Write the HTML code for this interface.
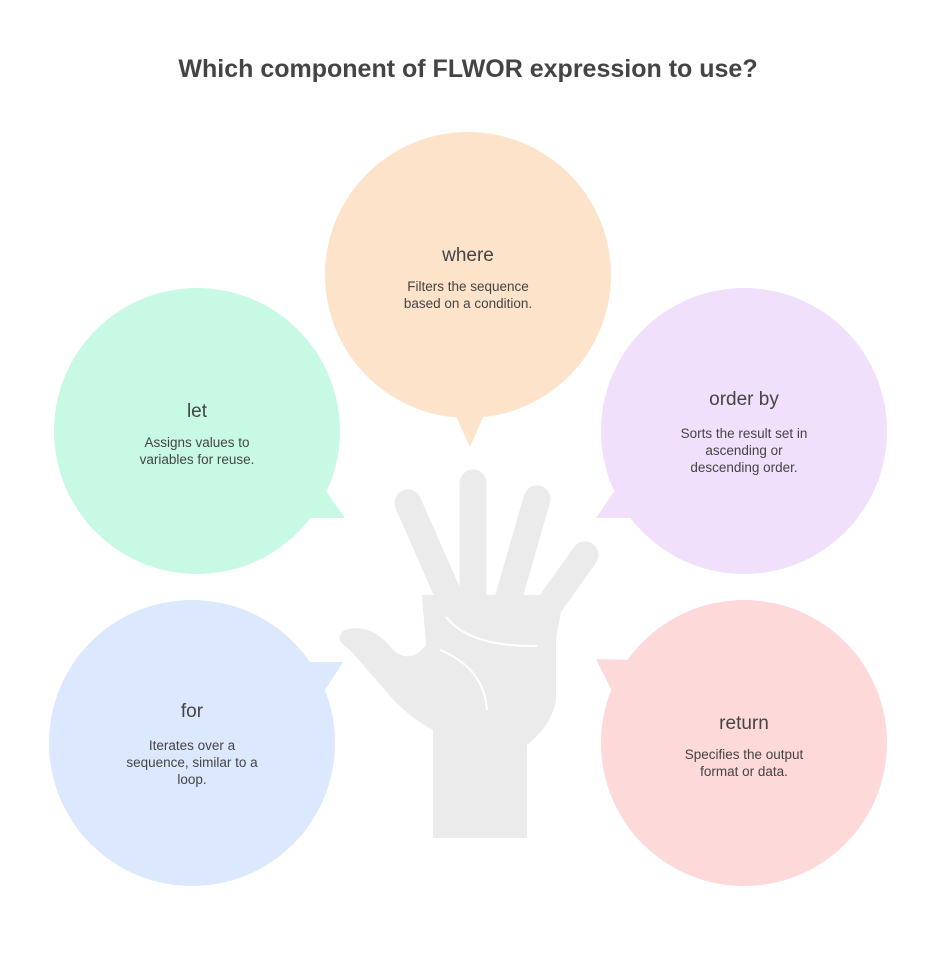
<!DOCTYPE html>
<html><head><meta charset="utf-8"><style>
body{margin:0;background:#fff}
svg text{font-family:"Liberation Sans",sans-serif;fill:#444}
.h{font-size:19px}
.d{font-size:13.5px}
</style></head><body>
<svg width="936" height="960" viewBox="0 0 936 960">
<text x="468" y="77" text-anchor="middle" style="font-size:25px;font-weight:bold" fill="#3d3d3d">Which component of FLWOR expression to use?</text>
<!-- where -->
<circle cx="468" cy="275" r="143" fill="#fde3ca"/>
<polygon points="453,410 486,410 470,447" fill="#fde3ca"/>
<text x="468" y="261" text-anchor="middle" class="h">where</text>
<text x="468" y="291" text-anchor="middle" class="d">Filters the sequence</text>
<text x="468" y="308" text-anchor="middle" class="d">based on a condition.</text>
<!-- let -->
<circle cx="197" cy="431" r="143" fill="#c8f9e4"/>
<polygon points="318,480 345,518 305,518" fill="#c8f9e4"/>
<text x="197" y="417" text-anchor="middle" class="h">let</text>
<text x="197" y="447" text-anchor="middle" class="d">Assigns values to</text>
<text x="197" y="464" text-anchor="middle" class="d">variables for reuse.</text>
<!-- order by -->
<circle cx="744" cy="431" r="143" fill="#f1e0fb"/>
<polygon points="622,480 596,518 636,518" fill="#f1e0fb"/>
<text x="744" y="405" text-anchor="middle" class="h">order by</text>
<text x="744" y="438" text-anchor="middle" class="d">Sorts the result set in</text>
<text x="744" y="455" text-anchor="middle" class="d">ascending or</text>
<text x="744" y="472" text-anchor="middle" class="d">descending order.</text>
<!-- for -->
<circle cx="192" cy="743" r="143" fill="#dce8fd"/>
<polygon points="343,662 305,662 325,690 " fill="#dce8fd"/>
<text x="192" y="717" text-anchor="middle" class="h">for</text>
<text x="192" y="750" text-anchor="middle" class="d">Iterates over a</text>
<text x="192" y="767" text-anchor="middle" class="d">sequence, similar to a</text>
<text x="192" y="784" text-anchor="middle" class="d">loop.</text>
<!-- return -->
<circle cx="744" cy="743" r="143" fill="#fdd9d9"/>
<polygon points="596,659 636,660 614,695" fill="#fdd9d9"/>
<text x="744" y="729" text-anchor="middle" class="h">return</text>
<text x="744" y="759" text-anchor="middle" class="d">Specifies the output</text>
<text x="744" y="776" text-anchor="middle" class="d">format or data.</text>
<!-- hand -->
<g stroke="#ebebeb" stroke-width="27" stroke-linecap="round" fill="none">
<line x1="408" y1="503" x2="455" y2="610"/>
<line x1="473" y1="483" x2="473" y2="610"/>
<line x1="537" y1="499" x2="505" y2="610"/>
<line x1="585" y1="555" x2="535" y2="625"/>
</g>
<path d="M422 595 L546 595 L562 605 L556 640 L556 700 Q552 725 527 745 L527 838 L433 838 L433 730 Q405 715 385 690 L350 650 Q332 638 345 630 Q372 622 393 650 Q410 665 426 645 Z" fill="#ebebeb"/>
<path d="M446 617 Q470 647 537 646" stroke="#fff" stroke-width="2" fill="none"/>
<path d="M440 650 Q484 668 487 710" stroke="#fff" stroke-width="2" fill="none"/>
</svg>
</body></html>
